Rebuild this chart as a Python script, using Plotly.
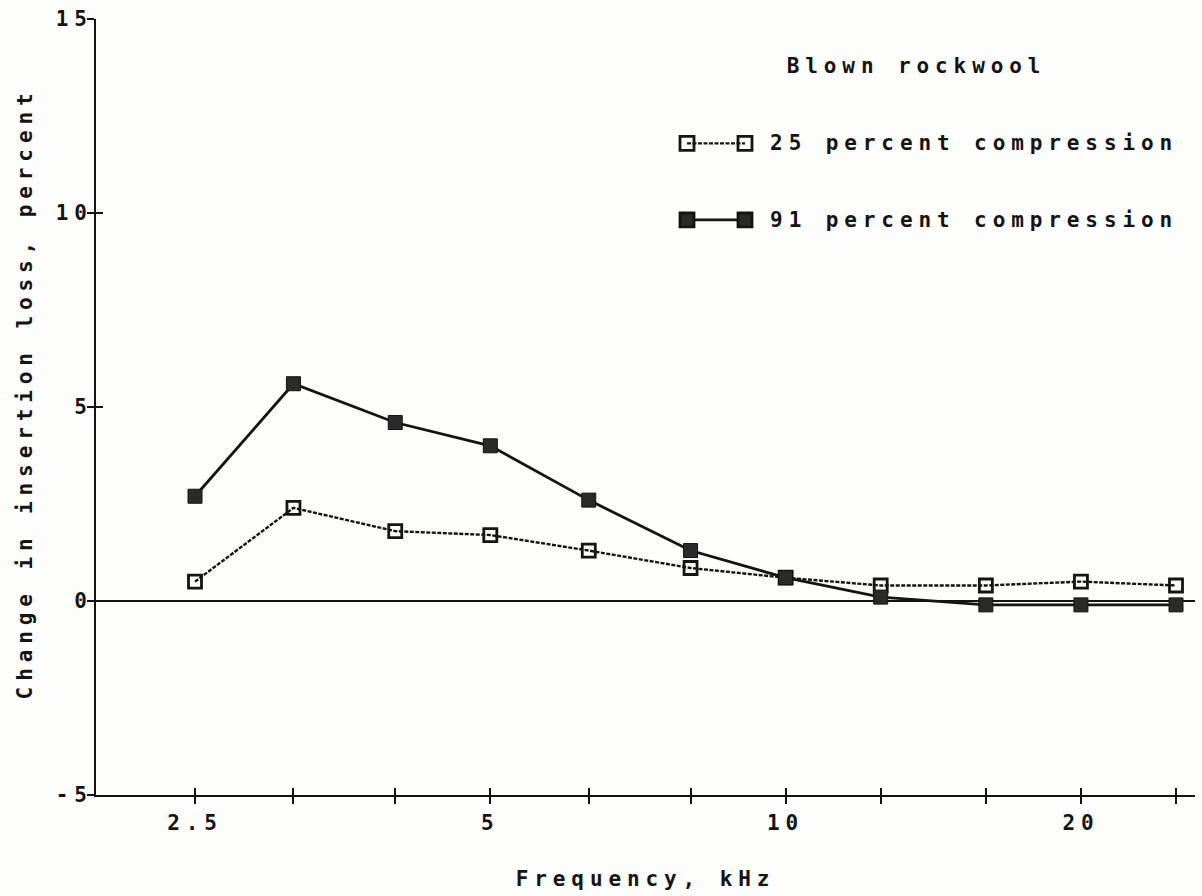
import numpy as np
import plotly.graph_objects as go

# Third-octave band centre frequencies, kHz
freq_khz = [2.5, 3.15, 4, 5, 6.3, 8, 10, 12.5, 16, 20, 25]
freq_labels = ["2.5", "", "", "5", "", "", "10", "", "", "20", ""]

# Change in insertion loss, percent
loss_25pct = [0.5, 2.4, 1.8, 1.7, 1.3, 0.85, 0.6, 0.4, 0.4, 0.5, 0.4]
loss_91pct = [2.7, 5.6, 4.6, 4.0, 2.6, 1.3, 0.6, 0.1, -0.1, -0.1, -0.1]

y_ticks = [-5, 0, 5, 10, 15]
y_labels = ["-5", "0", "5", "10", "15"]

# Figure geometry (pixels)
W, H = 1202, 896
ML, MR, MT, MB = 96, 7, 15, 101
PW, PH = W - ML - MR, H - MT - MB

FONT = "DejaVu Sans Mono"
FSIZE = 21
INK = "#141414"
FILL = "#2a2a2a"
BG = "#fdfdfb"


def px_x(p):
    return (p - ML) / PW


def px_y(p):
    return (H - MB - p) / PH


fig = go.Figure()

fig.add_trace(go.Scatter(
    x=freq_khz, y=loss_25pct, mode="lines+markers", name="25 percent compression",
    line=dict(color=INK, width=2.4, dash="4px,1.5px"),
    marker=dict(symbol="square-open", size=13, color=INK, line=dict(width=2.8, color=INK)),
    xaxis="x", yaxis="y", showlegend=False,
))
fig.add_trace(go.Scatter(
    x=freq_khz, y=loss_91pct, mode="lines+markers", name="91 percent compression",
    line=dict(color=INK, width=2.8),
    marker=dict(symbol="square", size=14, color=FILL, line=dict(width=1, color=INK)),
    xaxis="x2", yaxis="y2", showlegend=False,
))

x_range = [np.log10(2.5) - 99 / 981, np.log10(25) + 19 / 981]
tickfont = dict(family=FONT, size=FSIZE, color=INK, weight="bold")

fig.update_layout(
    width=W, height=H,
    margin=dict(l=ML, r=MR, t=MT, b=MB),
    paper_bgcolor=BG, plot_bgcolor=BG,
    xaxis=dict(
        type="log", range=x_range, tickmode="array", tickvals=freq_khz, ticktext=freq_labels,
        ticks="outside", ticklen=7, tickwidth=2, tickcolor=INK,
        showline=True, linewidth=2, linecolor=INK, showgrid=False, zeroline=False,
        tickfont=tickfont, ticklabelstandoff=1,
    ),
    xaxis2=dict(
        type="log", overlaying="x", matches="x", anchor="y2", tickmode="array", tickvals=freq_khz,
        ticks="inside", ticklen=7, tickwidth=2, tickcolor=INK, showticklabels=False,
        showline=False, showgrid=False, zeroline=False,
    ),
    yaxis=dict(
        range=[-5, 15], tickmode="array", tickvals=y_ticks, ticktext=y_labels,
        ticks="outside", ticklen=7, tickwidth=2, tickcolor=INK,
        showline=True, linewidth=2, linecolor=INK, showgrid=False,
        zeroline=True, zerolinecolor=INK, zerolinewidth=2.4,
        tickfont=tickfont, ticklabelstandoff=-10,
    ),
    yaxis2=dict(
        overlaying="y", matches="y", anchor="x2", tickmode="array", tickvals=y_ticks,
        ticks="inside", ticklen=7, tickwidth=2, tickcolor=INK, showticklabels=False,
        showline=False, showgrid=False, zeroline=False,
    ),
)

label_font = dict(family=FONT, size=FSIZE, color=INK, weight="bold")

# Axis titles
fig.add_annotation(text="Frequency, kHz", xref="paper", yref="paper",
                   x=px_x(645), y=px_y(879), xanchor="center", yanchor="middle",
                   showarrow=False, font=label_font)
fig.add_annotation(text="Change in insertion loss, percent", xref="paper", yref="paper",
                   x=px_x(25), y=px_y(392), xanchor="center", yanchor="middle", textangle=-90,
                   showarrow=False, font=label_font)

# Key
fig.add_annotation(text="Blown rockwool", xref="paper", yref="paper",
                   x=px_x(916), y=px_y(62), xanchor="center", yanchor="middle",
                   showarrow=False, font=label_font)
key_rows = [
    ("25 percent compression", 140, dict(color=INK, width=2.4, dash="4px,1.5px"), "rgba(0,0,0,0)"),
    ("91 percent compression", 217, dict(color=INK, width=2.8), FILL),
]
for text, yc, line, fill in key_rows:
    fig.add_shape(type="line", xref="paper", yref="paper",
                  x0=px_x(687), x1=px_x(745), y0=px_y(yc), y1=px_y(yc), line=line)
    for xc in (687, 745):
        fig.add_shape(type="rect", xref="paper", yref="paper",
                      x0=px_x(xc - 7), x1=px_x(xc + 7), y0=px_y(yc + 7), y1=px_y(yc - 7),
                      line=dict(color=INK, width=2.8), fillcolor=fill)
    fig.add_annotation(text=text, xref="paper", yref="paper",
                       x=px_x(974), y=px_y(yc), xanchor="center", yanchor="middle",
                       showarrow=False, font=label_font)

# Plotter-style wide lettering
spacing_js = (
    "document.querySelectorAll('.main-svg text').forEach(function(t){"
    "t.style.letterSpacing='5.9px';});"
)

fig.write_html("out.html", post_script=spacing_js)
